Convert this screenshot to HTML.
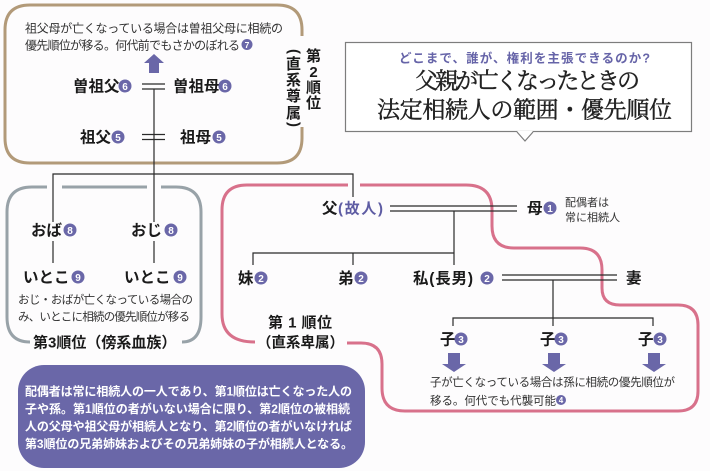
<!DOCTYPE html>
<html><head><meta charset="utf-8"><style>
html,body{margin:0;padding:0;background:#fdfcfd;}
svg{display:block;}
text{font-family:"Liberation Sans","Noto Sans CJK JP",sans-serif;}
.b{font-weight:700;fill:#1a1a1a;}
.n{fill:#333;}
.serif{font-family:"Liberation Serif","Noto Serif CJK JP","Noto Serif CJK SC",serif;}
</style></head><body>
<svg width="710" height="471" viewBox="0 0 710 471" xmlns="http://www.w3.org/2000/svg">
<rect width="710" height="471" fill="#fdfcfd"/>

<!-- brown box (2nd) -->
<path d="M302,36 V30 Q302,5 277,5 H30 Q5,5 5,30 V138 Q5,163 30,163 H277 Q302,163 302,138 V127" fill="none" stroke="#b29a79" stroke-width="3"/>
<!-- gray box (3rd) -->
<g fill="none" stroke="#98a2a8" stroke-width="3">
<path d="M47,187 H32 Q7,187 7,212 V317 Q7,342 30,342"/>
<path d="M62,187 H147"/>
<path d="M161,187 H176 Q201,187 201,212 V317 Q201,342 182,342"/>
</g>
<!-- pink box (1st) -->
<g fill="none" stroke="#d8718b" stroke-width="3">
<path d="M348,185 H247 Q222,185 222,210 V314 Q222,342 255,342"/>
<path d="M360,185 H466 Q492,185 492,210 V226 Q492,248 514,248 H580 Q602,248 602,270 V288 Q602,305 620,305 H678 Q698,305 698,325 V391 Q698,411 678,411 H405 Q382,411 382,388 V364 Q382,343 361,343 H347"/>
</g>

<!-- connector lines -->
<g stroke="#2a2a2a" stroke-width="1.2" fill="none">
<line x1="142" y1="84" x2="165" y2="84"/><line x1="142" y1="89" x2="165" y2="89"/>
<line x1="142" y1="134.5" x2="165" y2="134.5"/><line x1="142" y1="139.5" x2="165" y2="139.5"/>
<line x1="154" y1="89" x2="154" y2="222"/>
<polyline points="53,222 53,174 353,174 353,197"/>
<line x1="53" y1="241" x2="53" y2="263"/><line x1="154" y1="241" x2="154" y2="263"/>
<line x1="390" y1="206" x2="517" y2="206"/><line x1="390" y1="211" x2="517" y2="211"/>
<line x1="454" y1="211" x2="454" y2="265"/>
<polyline points="253,265 253,253 454,253"/>
<line x1="353" y1="253" x2="353" y2="265"/>
<line x1="502" y1="275" x2="617" y2="275"/><line x1="502" y1="280" x2="617" y2="280"/>
<line x1="553" y1="280" x2="553" y2="326"/>
<polyline points="453,326 453,318 653,318 653,326"/>
</g>

<!-- brown section text -->
<text x="25" y="32.5" font-size="12" class="n" textLength="258">祖父母が亡くなっている場合は曽祖父母に相続の</text>
<text x="25" y="49.5" font-size="12" class="n" textLength="215">優先順位が移る。何代前でもさかのぼれる</text>
<circle cx="247" cy="44.5" r="5.5" fill="#6a67a8"/><text x="247" y="48" font-size="8.5" font-weight="700" fill="#fff" text-anchor="middle">7</text>
<polygon points="154,54 164,63 159,63 159,73 149,73 149,63 144,63" fill="#6a67a8"/>

<text x="73" y="91.5" font-size="15.5" class="b">曽祖父</text>
<circle cx="125" cy="86" r="6.5" fill="#6a67a8"/><text x="125" y="90" font-size="10" font-weight="700" fill="#fff" text-anchor="middle">6</text>
<text x="173" y="91.5" font-size="15.5" class="b">曽祖母</text>
<circle cx="225" cy="86" r="6.5" fill="#6a67a8"/><text x="225" y="90" font-size="10" font-weight="700" fill="#fff" text-anchor="middle">6</text>
<text x="80" y="142.5" font-size="15.5" class="b">祖父</text>
<circle cx="118" cy="137" r="6.5" fill="#6a67a8"/><text x="118" y="141" font-size="10" font-weight="700" fill="#fff" text-anchor="middle">5</text>
<text x="180" y="142.5" font-size="15.5" class="b">祖母</text>
<circle cx="219" cy="137" r="6.5" fill="#6a67a8"/><text x="219" y="141" font-size="10" font-weight="700" fill="#fff" text-anchor="middle">5</text>

<!-- vertical label 第2順位 (直系尊属) -->
<g font-size="15" font-weight="700" fill="#1a1a1a" text-anchor="middle">
<text x="313.5" y="61">第</text>
<text x="313.5" y="77">2</text>
<text x="313.5" y="92.5">順</text>
<text x="313.5" y="108">位</text>
<text transform="translate(293.5,51.5) rotate(90)" x="0" y="4">(</text>
<text x="293.5" y="69">直</text>
<text x="293.5" y="85">系</text>
<text x="293.5" y="101">尊</text>
<text x="293.5" y="118">属</text>
<text transform="translate(293.5,124.5) rotate(90)" x="0" y="4">)</text>
</g>

<!-- gray section -->
<text x="31" y="235.5" font-size="15.5" class="b">おば</text>
<circle cx="70" cy="230" r="6.5" fill="#6a67a8"/><text x="70" y="234" font-size="10" font-weight="700" fill="#fff" text-anchor="middle">8</text>
<text x="131" y="235.5" font-size="15.5" class="b">おじ</text>
<circle cx="171" cy="230" r="6.5" fill="#6a67a8"/><text x="171" y="234" font-size="10" font-weight="700" fill="#fff" text-anchor="middle">8</text>
<text x="23" y="282.5" font-size="15.5" class="b">いとこ</text>
<circle cx="78" cy="277" r="6.5" fill="#6a67a8"/><text x="78" y="281" font-size="10" font-weight="700" fill="#fff" text-anchor="middle">9</text>
<text x="124" y="282.5" font-size="15.5" class="b">いとこ</text>
<circle cx="180" cy="277" r="6.5" fill="#6a67a8"/><text x="180" y="281" font-size="10" font-weight="700" fill="#fff" text-anchor="middle">9</text>
<text x="18" y="303.5" font-size="11.5" class="n" textLength="175">おじ・おばが亡くなっている場合の</text>
<text x="18" y="320.5" font-size="11.5" class="n" textLength="172">み、いとこに相続の優先順位が移る</text>
<text x="33" y="347.5" font-size="15" class="b">第3順位（傍系血族）</text>

<!-- pink section -->
<text x="322" y="213.5" font-size="15.5" class="b">父</text>
<text x="338" y="213.5" font-size="15" font-weight="700" fill="#5e5ca3" textLength="45">(故人)</text>
<text x="527" y="213.5" font-size="15.5" class="b">母</text>
<circle cx="550" cy="208" r="6.5" fill="#6a67a8"/><text x="550" y="212" font-size="10" font-weight="700" fill="#fff" text-anchor="middle">1</text>
<text x="565" y="206" font-size="11" class="n">配偶者は</text>
<text x="565" y="221" font-size="11" class="n">常に相続人</text>

<text x="238" y="283.5" font-size="15.5" class="b">妹</text>
<circle cx="261" cy="278" r="6.5" fill="#6a67a8"/><text x="261" y="282" font-size="10" font-weight="700" fill="#fff" text-anchor="middle">2</text>
<text x="338" y="283.5" font-size="15.5" class="b">弟</text>
<circle cx="361" cy="278" r="6.5" fill="#6a67a8"/><text x="361" y="282" font-size="10" font-weight="700" fill="#fff" text-anchor="middle">2</text>
<text x="413" y="283.5" font-size="15.5" class="b" textLength="60">私(長男)</text>
<circle cx="487" cy="278" r="6.5" fill="#6a67a8"/><text x="487" y="282" font-size="10" font-weight="700" fill="#fff" text-anchor="middle">2</text>
<text x="626" y="283.5" font-size="15.5" class="b">妻</text>

<text x="440" y="344.5" font-size="15.5" class="b">子</text>
<circle cx="461" cy="339" r="6.5" fill="#6a67a8"/><text x="461" y="343" font-size="10" font-weight="700" fill="#fff" text-anchor="middle">3</text>
<text x="540" y="344.5" font-size="15.5" class="b">子</text>
<circle cx="561" cy="339" r="6.5" fill="#6a67a8"/><text x="561" y="343" font-size="10" font-weight="700" fill="#fff" text-anchor="middle">3</text>
<text x="638" y="344.5" font-size="15.5" class="b">子</text>
<circle cx="660" cy="339" r="6.5" fill="#6a67a8"/><text x="660" y="343" font-size="10" font-weight="700" fill="#fff" text-anchor="middle">3</text>

<g fill="#6a67a8">
<polygon points="448,353 460,353 460,364 466,364 454,372 442,364 448,364"/>
<polygon points="548,353 560,353 560,364 566,364 554,372 542,364 548,364"/>
<polygon points="648,353 660,353 660,364 666,364 654,372 642,364 648,364"/>
</g>
<text x="430" y="386" font-size="11.5" class="n" textLength="245">子が亡くなっている場合は孫に相続の優先順位が</text>
<text x="430" y="404.5" font-size="11.5" class="n" textLength="126">移る。何代でも代襲可能</text>
<circle cx="561" cy="400" r="5" fill="#6a67a8"/><text x="561" y="403" font-size="8" font-weight="700" fill="#fff" text-anchor="middle">4</text>

<text x="268" y="327.5" font-size="15" class="b" textLength="64">第 1 順位</text>
<text x="257" y="347.5" font-size="14.5" class="b">（直系卑属）</text>

<!-- purple summary box -->
<rect x="18" y="365" width="347" height="103" rx="26" fill="#6a67a8"/>
<g font-size="12" font-weight="700" fill="#fff">
<text x="25" y="395.5" textLength="327">配偶者は常に相続人の一人であり、第1順位は亡くなった人の</text>
<text x="25" y="413" textLength="325">子や孫。第1順位の者がいない場合に限り、第2順位の被相続</text>
<text x="25" y="430.5" textLength="327">人の父母や祖父母が相続人となり、第2順位の者がいなければ</text>
<text x="25" y="448" textLength="328">第3順位の兄弟姉妹およびその兄弟姉妹の子が相続人となる。</text>
</g>

<!-- title callout -->
<rect x="345.5" y="42.5" width="346" height="89" fill="#ffffff" stroke="#7d7d7d" stroke-width="1.2"/>
<polygon points="517,131 525,141 533,131" fill="#ffffff"/>
<polyline points="517,132 525,141 533,132" fill="none" stroke="#7d7d7d" stroke-width="1.2"/>
<text x="399" y="62.5" font-size="12.5" font-weight="700" fill="#6664a8" textLength="251">どこまで、誰が、権利を主張できるのか?</text>
<text x="415" y="88.5" font-size="23" class="serif" fill="#222" stroke="#222" stroke-width="0.45" textLength="225">父親が亡くなったときの</text>
<text x="377" y="117.5" font-size="23" class="serif" fill="#222" stroke="#222" stroke-width="0.45" textLength="295">法定相続人の範囲・優先順位</text>
</svg>
</body></html>
